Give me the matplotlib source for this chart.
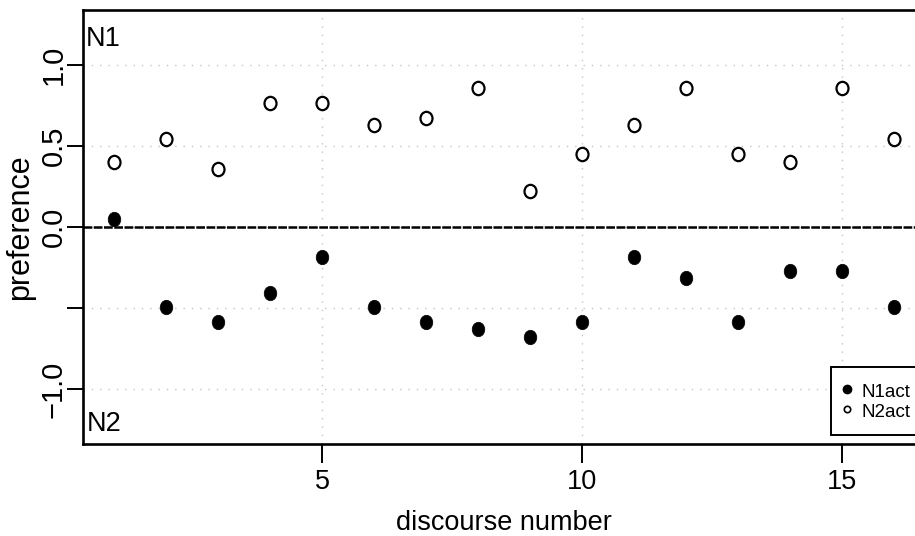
"""Discourse preference plot: N1act (filled) vs N2act (open) per discourse."""

import matplotlib

matplotlib.use("Agg")
import matplotlib.pyplot as plt
from matplotlib.lines import Line2D
from matplotlib.markers import MarkerStyle
from matplotlib.path import Path
from matplotlib.transforms import Affine2D

# values
DISCOURSE = [1, 2, 3, 4, 5, 6, 7, 8, 9, 10, 11, 12, 13, 14, 15, 16]
N1ACT = [0.049, -0.494, -0.585, -0.404, -0.181, -0.494, -0.585, -0.630,
         -0.675, -0.585, -0.181, -0.315, -0.585, -0.270, -0.270, -0.494]
N2ACT = [0.405, 0.543, 0.360, 0.769, 0.769, 0.630, 0.677, 0.858,
         0.226, 0.454, 0.630, 0.858, 0.454, 0.405, 0.858, 0.543]

X_TICKS = [5, 10, 15]
Y_TICKS = [-1.0, -0.5, 0.0, 0.5, 1.0]
Y_TICKLABELS = ["\u22121.0", "", "0.0", "0.5", "1.0"]

FONT = ["Liberation Sans", "DejaVu Sans"]
HTEXT = 19.5   # horizontal texts (the reference looks squeezed sideways)
VTEXT = 21     # rotated texts

W, H = 915, 536


def main():
    fig = plt.figure(figsize=(W / 100, H / 100), dpi=100)
    # plot region in pixels: x 82.7..915, y 10..444.3 (from top)
    ax = fig.add_axes([82.7 / W, (H - 444.3) / H, (W - 82.7) / W, 434.3 / H])

    # R-style points look slightly taller than wide in the reference
    ell = MarkerStyle(Affine2D().scale(0.87, 1.0).transform_path(Path.unit_circle()))
    ring = MarkerStyle(Affine2D().scale(0.9, 1.0).transform_path(Path.unit_circle()))

    grid_kw = dict(color="#c4c4c4", linewidth=1.0, linestyle=(0, (1, 5)), zorder=0)
    for xv in X_TICKS:
        ax.axvline(xv, **grid_kw)
    for yv in Y_TICKS:
        ax.axhline(yv, **grid_kw)
    ax.axhline(0.0, color="black", linewidth=1.8, linestyle=(0, (3.5, 0.6)), zorder=1)

    ax.plot(DISCOURSE, N1ACT, linestyle="none", marker=ell, markersize=10.4,
            markerfacecolor="black", markeredgecolor="black", markeredgewidth=0.5,
            zorder=3)
    ax.plot(DISCOURSE, N2ACT, linestyle="none", marker=ring, markersize=9.6,
            markerfacecolor="white", markeredgecolor="black", markeredgewidth=1.6,
            zorder=3)

    ax.set_xlim(0.394, 16.41)
    ax.set_ylim(-1.34, 1.341)

    ax.set_xticks(X_TICKS)
    ax.set_xticklabels([str(t) for t in X_TICKS], family=FONT, fontsize=HTEXT)
    ax.set_yticks(Y_TICKS)
    ax.set_yticklabels(Y_TICKLABELS, family=FONT, fontsize=VTEXT)
    ax.tick_params(axis="x", length=13.7, width=1.4, pad=4, direction="out")
    ax.tick_params(axis="y", length=11.5, width=1.4, pad=3.6, direction="out")
    for lbl in ax.get_yticklabels():
        lbl.set_rotation(90)
        lbl.set_rotation_mode("anchor")
        lbl.set_horizontalalignment("center")
        lbl.set_verticalalignment("baseline")

    for side in ("left", "bottom", "top"):
        ax.spines[side].set_linewidth(1.9)
    ax.spines["right"].set_visible(False)

    ax.set_ylabel("preference", family=FONT, fontsize=22)
    ax.yaxis.set_label_coords(-0.0575, 0.5)
    # centred on the original (uncropped) plot region, i.e. x = 8.5
    ax.text(0.506, -0.197, "discourse number", transform=ax.transAxes,
            ha="center", va="baseline", family=FONT, fontsize=HTEXT)

    ax.text(0.45, 1.121, "N1", ha="left", va="baseline", family=FONT, fontsize=HTEXT)
    ax.text(0.48, -1.257, "N2", ha="left", va="baseline", family=FONT, fontsize=HTEXT)

    handles = [
        Line2D([], [], linestyle="none", marker="o", markersize=6.0,
               markerfacecolor="black", markeredgecolor="black", label="N1act"),
        Line2D([], [], linestyle="none", marker="o", markersize=4.6,
               markerfacecolor="white", markeredgecolor="black",
               markeredgewidth=1.2, label="N2act"),
    ]
    leg = ax.legend(handles=handles, loc="lower left",
                    bbox_to_anchor=(830.7 / W, (H - 435) / H),
                    bbox_transform=fig.transFigure, borderaxespad=0,
                    prop={"family": FONT, "size": 13.5},
                    frameon=True, fancybox=False, framealpha=1,
                    edgecolor="black", borderpad=0.75, handlelength=0.28,
                    handleheight=1.24, handletextpad=0.6, labelspacing=0.0)
    leg.get_frame().set_linewidth(1.4)

    fig.savefig("out.png", dpi=100)
    plt.close(fig)


if __name__ == "__main__":
    main()
